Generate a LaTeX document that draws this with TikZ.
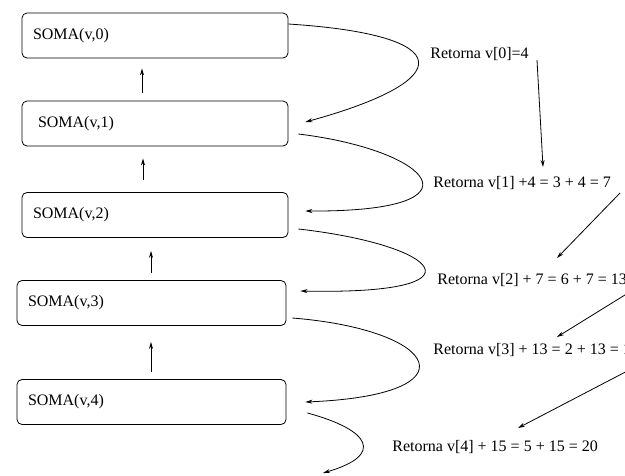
\documentclass[tikz,border=0pt]{standalone}
\usepackage{fontspec}
\setmainfont{Liberation Serif}
\usepackage{tikz}
\usetikzlibrary{calc,arrows.meta}
\newcommand{\caixa}[2][244pt]{\makebox[#1][l]{#2}}

\begin{document}
\begin{tikzpicture}[
    x = 1pt,
    y = -1pt,
    line width = 0.8pt,
    somabox/.style={draw, rounded corners=5pt, minimum height=45pt,
        inner xsep=11pt, font=\fontsize{16}{19}\selectfont},
    result/.style={anchor=west, inner sep=0pt, font=\fontsize{16}{19}\selectfont},
    seta/.style={-{Stealth[length=7pt, width=4pt]}}
    ]
    \useasboundingbox (0,0) rectangle (625,475);
    \node[somabox] (s0) at (155,35.5) {\caixa{SOMA(v,0)}};
    \node[somabox, inner xsep=16pt] (s1) at (155,123.5) {\caixa[234pt]{SOMA(v,1)}};
    \node[somabox] (s2) at (155,215) {\caixa{SOMA(v,2)}};
    \node[somabox] (s3) at (151.5,303) {\caixa[247pt]{SOMA(v,3)}};
    \node[somabox] (s4) at (151.5,402) {\caixa[247pt]{SOMA(v,4)}};
    \coordinate (fim) at (323,473);

    \node[result] (r0) at (430,54) {Retorna v[0]=4};
    \node[result] (r1) at (433,183) {Retorna v[1] +4 = 3 + 4 = 7};
    \node[result] (r2) at (437,280) {Retorna v[2] + 7 = 6 + 7 = 13};
    \node[result] (r3) at (433,350) {Retorna v[3] + 13 = 2 + 13 = 15};
    \node[result] (r4) at (392,447) {Retorna v[4] + 15 = 5 + 15 = 20};

    \draw[seta] ($(s1.north)+(-13,-8)$) -- ($(s0.south)+(-13,10)$);
    \draw[seta] ($(s2.north)+(-12,-12)$) -- ($(s1.south)+(-12,12)$);
    \draw[seta] ($(s3.north)+(-0.5,-7)$) -- ($(s2.south)+(-4,13)$);
    \draw[seta] ($(s4.north)+(-0.5,-7)$) -- ($(s3.south)+(-0.5,16)$);

    \draw[seta] ($(s0.east)+(0,-11.5)$) .. controls +(170,11) and +(153,-42) .. ($(s1.east)+(17,-1.5)$);
    \draw[seta] ($(s1.east)+(10,10.5)$) .. controls +(132,16) and +(185,1) .. ($(s2.east)+(17,-4)$);
    \draw[seta] ($(s2.east)+(10,14)$) .. controls +(142,16) and +(190,4) .. ($(s3.east)+(14,-12)$);
    \draw[seta] ($(s3.east)+(6,15)$) .. controls +(148,12) and +(170,-7) .. ($(s4.east)+(19,0)$);
    \draw[seta] ($(s4.east)+(21,11)$) .. controls +(63,17) and +(62,-18) .. (fim);

    \draw[seta] ($(r0.west)+(107,6)$) -- ($(r1.west)+(110,-16)$);
    \draw[seta] ($(r1.west)+(187,10)$) -- ($(r2.west)+(120,-22)$);
    \draw[seta] ($(r2.west)+(196,10)$) -- ($(r3.west)+(124,-13)$);
    \draw[seta] ($(r3.west)+(202,17)$) -- ($(r4.west)+(126,-19)$);
\end{tikzpicture}
\end{document}
